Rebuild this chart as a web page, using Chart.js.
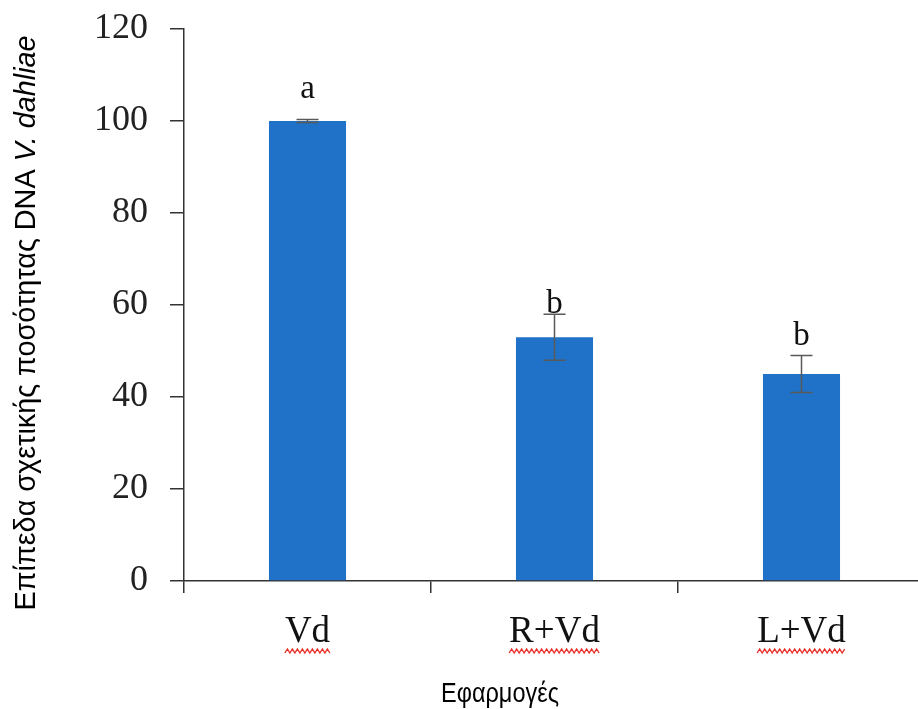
<!DOCTYPE html>
<html>
<head>
<meta charset="utf-8">
<script src="https://cdn.jsdelivr.net/npm/chart.js@4"></script>
<style>
  html, body { margin: 0; padding: 0; background: #fff; overflow: hidden; }
  #wrap { width: 927px; height: 709px; }
</style>
</head>
<body>
<div id="wrap"><canvas id="myChart"></canvas></div>
<script>
const treatments = ['Vd', 'R+Vd', 'L+Vd'];
const dnaLevels = [100, 53, 45];
const dnaErrors = [0.3, 5, 4];
const groupLetters = ['a', 'b', 'b'];
const letterLevels = [105, 58.3, 51.3];
const yTicks = [0, 20, 40, 60, 80, 100, 120];

const serif = '"Liberation Serif", "DejaVu Serif", serif';
const sans = '"Liberation Sans", "Noto Sans", sans-serif';

// error bars, significance letters, spell-check squiggles and axis titles
const extras = {
  id: 'extras',
  afterDatasetsDraw(chart) {
    const ctx = chart.ctx;
    const x = chart.scales.x, y = chart.scales.y;
    ctx.save();
    dnaLevels.forEach((v, i) => {
      const cx = x.getPixelForValue(i);
      const top = y.getPixelForValue(v + dnaErrors[i]);
      const bot = y.getPixelForValue(v - dnaErrors[i]);
      ctx.strokeStyle = '#595959';
      ctx.lineWidth = 1.5;
      ctx.beginPath();
      ctx.moveTo(cx, top); ctx.lineTo(cx, bot);
      ctx.moveTo(cx - 11, top); ctx.lineTo(cx + 11, top);
      ctx.moveTo(cx - 11, bot); ctx.lineTo(cx + 11, bot);
      ctx.stroke();

      ctx.fillStyle = '#111';
      ctx.font = '33px ' + serif;
      ctx.textAlign = 'center';
      ctx.textBaseline = 'alphabetic';
      ctx.fillText(groupLetters[i], cx, y.getPixelForValue(letterLevels[i]));

      // red wavy underline below category label
      ctx.font = '37px ' + serif;
      const w = ctx.measureText(treatments[i]).width;
      const wy = 653;
      ctx.strokeStyle = '#e8302a';
      ctx.lineWidth = 1.4;
      ctx.beginPath();
      const sx = cx - w / 2;
      ctx.moveTo(sx, wy);
      let up = true;
      for (let px = sx + 2.5; px <= cx + w / 2 + 1; px += 2.5) {
        ctx.lineTo(px, up ? wy - 4 : wy);
        up = !up;
      }
      ctx.stroke();
    });

    // x-axis title
    ctx.save();
    ctx.fillStyle = '#000';
    ctx.font = '27px ' + sans;
    ctx.textAlign = 'center';
    ctx.textBaseline = 'alphabetic';
    ctx.translate(500, 702);
    ctx.scale(0.87, 1);
    ctx.fillText('Εφαρμογές', 0, 0);
    ctx.restore();

    // y-axis title with italic species name
    const parts = [
      { t: 'Επίπεδα σχετικής ποσότητας DNA ', f: '28.8px ' + sans },
      { t: 'V. dahliae', f: 'italic 28.8px ' + sans }
    ];
    let total = 0;
    parts.forEach(p => { ctx.font = p.f; p.w = ctx.measureText(p.t).width; total += p.w; });
    ctx.fillStyle = '#000';
    ctx.translate(35, 323);
    ctx.rotate(-Math.PI / 2);
    ctx.textAlign = 'left';
    let px = -total / 2;
    parts.forEach(p => { ctx.font = p.f; ctx.fillText(p.t, px, 0); px += p.w; });
    ctx.restore();
  }
};

const ctx = document.getElementById('myChart');
new Chart(ctx, {
  type: 'bar',
  data: {
    labels: treatments,
    datasets: [{
      data: dnaLevels,
      backgroundColor: '#1f72c7',
      borderWidth: 0,
      categoryPercentage: 1,
      barPercentage: 0.312
    }]
  },
  options: {
    responsive: true,
    maintainAspectRatio: false,
    animation: false,
    layout: { padding: { top: 0, right: 2, left: 0, bottom: 0 } },
    plugins: {
      legend: { display: false },
      tooltip: { enabled: false }
    },
    scales: {
      y: {
        min: 0,
        max: 120,
        afterBuildTicks(scale) { scale.ticks = yTicks.map(v => ({ value: v })); },
        afterFit(scale) {
          scale.width = 184;
          scale.paddingTop = 29;
          scale.paddingBottom = 0;
        },
        border: { color: '#333', width: 1.5 },
        grid: { drawOnChartArea: false, tickLength: 14, color: '#333', lineWidth: 1.5 },
        ticks: { color: '#222', font: { family: serif, size: 36 }, padding: 22 }
      },
      x: {
        afterFit(scale) { scale.height = 128; },
        border: { color: '#333', width: 1.5 },
        grid: { offset: true, drawOnChartArea: false, tickLength: 12, color: '#333', lineWidth: 1.5 },
        ticks: { color: '#111', font: { family: serif, size: 37 }, padding: 17 }
      }
    }
  },
  plugins: [extras]
});
</script>
</body>
</html>
